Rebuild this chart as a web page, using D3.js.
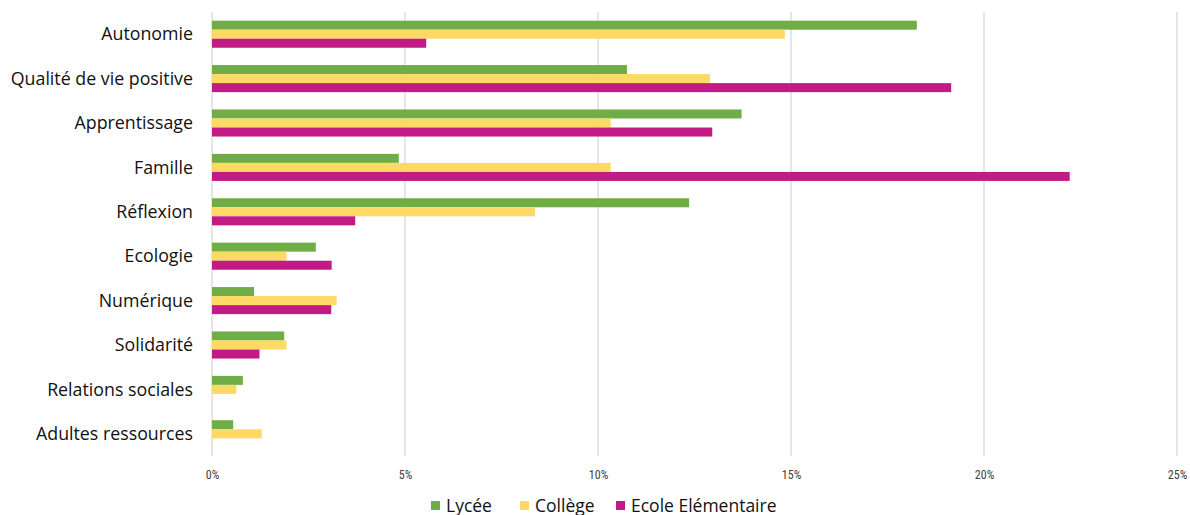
<!DOCTYPE html>
<html><head><meta charset="utf-8">
<script src="https://cdn.jsdelivr.net/npm/d3@7"></script>
<style>body{margin:0;background:#fff}svg{display:block}</style>
</head><body>
<svg id="c" width="1190" height="515"></svg>
<script>
const categories = ["Autonomie","Qualité de vie positive","Apprentissage","Famille","Réflexion","Ecologie","Numérique","Solidarité","Relations sociales","Adultes ressources"];
const seriesNames = ["Lycée","Collège","Ecole Elémentaire"];
const lycee   = [18.26,10.75,13.72,4.84,12.36,2.69,1.09,1.87,0.80,0.55];
const college = [14.84,12.90,10.33,10.33,8.37,1.93,3.23,1.93,0.63,1.29];
const ecole   = [5.55,19.15,12.96,22.22,3.71,3.10,3.09,1.23,0,0];
const tickValues = [0,5,10,15,20,25];
const colors = ["#70AD47","#FFD966","#C21B86"];
const series = [lycee, college, ecole];

const svg = d3.select("#c");
const x = d3.scaleLinear().domain([0,25]).range([212,1177]);
const y = d3.scaleBand().domain(categories).range([12,456]).paddingInner(0.39).paddingOuter(0.195);
const inner = d3.scaleBand().domain(seriesNames).range([0,y.bandwidth()]);

// gridlines
svg.append("g").selectAll("line").data(tickValues).join("line")
  .attr("x1",d=>x(d)).attr("x2",d=>x(d)).attr("y1",12).attr("y2",456)
  .attr("stroke","#d9d9d9").attr("stroke-width",1.3);

// bars
const g = svg.append("g");
categories.forEach((c,i)=>{
  series.forEach((s,j)=>{
    if(s[i]>0) g.append("rect")
      .attr("x",x(0)).attr("y",y(c)+inner(seriesNames[j]))
      .attr("width",x(s[i])-x(0)).attr("height",inner.bandwidth())
      .attr("fill",colors[j]);
  });
});

// x axis labels
const xa = svg.append("g").attr("transform","translate(0,476)")
  .call(d3.axisBottom(x).tickValues(tickValues).tickFormat(d=>d+"%").tickSize(0));
xa.select(".domain").remove();
xa.selectAll("text").attr("font-family","'Liberation Sans Narrow','Roboto Condensed',sans-serif").attr("font-size",12).attr("fill","#404040").attr("dy",0);

// y axis labels
const ya = svg.append("g").attr("transform","translate(200,0)")
  .call(d3.axisLeft(y).tickSize(0).tickPadding(7));
ya.select(".domain").remove();
ya.selectAll("text").attr("font-family","'Open Sans',sans-serif").attr("font-size",17.8).attr("fill","#111").attr("dy","0.35em");

// legend
const legendX = [431,520,616];
const lg = svg.append("g");
seriesNames.forEach((n,j)=>{
  lg.append("rect").attr("x",legendX[j]).attr("y",501).attr("width",9).attr("height",9).attr("fill",colors[j]);
  lg.append("text").attr("x",legendX[j]+15).attr("y",511.5).text(n)
    .attr("font-family","'Open Sans',sans-serif").attr("font-size",17.5).attr("fill","#111");
});
</script>
</body></html>
